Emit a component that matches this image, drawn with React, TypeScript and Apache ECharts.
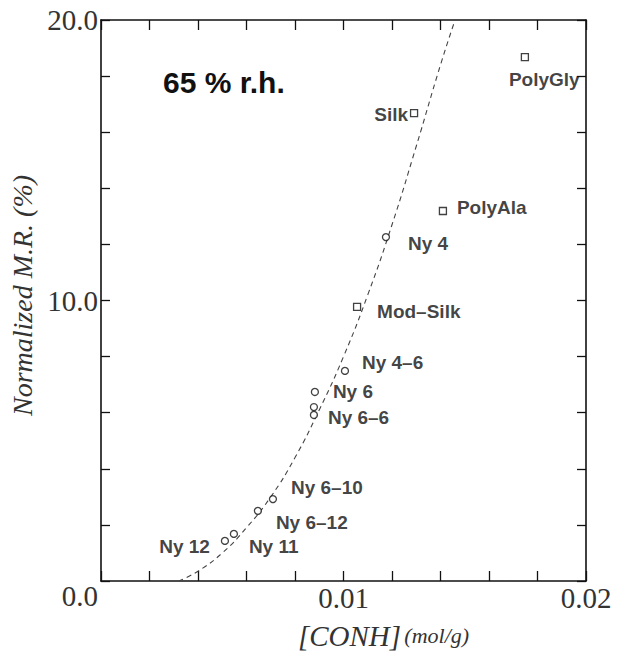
import React, { useEffect, useRef } from "react";
import * as echarts from "echarts";

// ---- data ----
const nylonNames = ["Ny 12", "Ny 11", "Ny 6–12", "Ny 6–10", "Ny 6", "Ny 6–6", "Ny 6–6", "Ny 4–6", "Ny 4"];
const nylonX = [0.00511, 0.00548, 0.00647, 0.00709, 0.00882, 0.00878, 0.00878, 0.01006, 0.01175];
const nylonY = [1.43, 1.68, 2.5, 2.92, 6.74, 6.2, 5.92, 7.49, 12.26];
const nylonShowLabel = [true, true, true, true, true, false, true, true, true];

const proteinNames = ["PolyGly", "Silk", "PolyAla", "Mod–Silk"];
const proteinX = [0.01748, 0.01291, 0.0141, 0.01056];
const proteinY = [18.68, 16.68, 13.19, 9.77];

const curveX = [0.0032, 0.004, 0.005, 0.006, 0.007, 0.008, 0.009, 0.01, 0.011, 0.012, 0.013, 0.014, 0.0146];
const curveY = [0, 0.35, 1.0, 1.9, 3.0, 4.4, 6.1, 8.0, 10.2, 12.7, 15.5, 18.4, 20.0];

const xLabelValues = [0.01, 0.02];
const xLabelTexts = ["0.01", "0.02"];
const yLabelValues = [0, 10, 20];
const yLabelTexts = ["0.0", "10.0", "20.0"];

// label placement (style, not data)
const nylonLabelPos: [string, number, number][] = [
  ["right", -15, 6],
  ["left", 15, 13],
  ["left", 18, 12],
  ["left", 18, -12],
  ["left", 18, 0],
  ["left", 0, 0],
  ["left", 14, 3],
  ["left", 17, -8],
  ["left", 22, 6],
];
const proteinLabelPos: [string, number, number][] = [
  ["left", -16, 22],
  ["right", -6, 1],
  ["left", 14, -4],
  ["left", 20, 5],
];

const INK = "#111";
const SERIF = "'Liberation Serif', 'DejaVu Serif', serif";
const SANS = "'Liberation Sans', Arial, sans-serif";

const near = (a: number, b: number) => Math.abs(a - b) < 1e-9;

export default function App() {
  const ref = useRef<HTMLDivElement>(null);
  useEffect(() => {
    if (!ref.current) return;
    const chart = echarts.init(ref.current, undefined, { renderer: "svg" });

    const labelBase = {
      fontFamily: SANS,
      fontWeight: "bold" as const,
      fontSize: 19,
      color: INK,
      position: "inside" as const,
      verticalAlign: "middle" as const,
    };

    const nylonData = nylonX.map((x, i) => {
      const [align, dx, dy] = nylonLabelPos[i];
      return {
        name: nylonNames[i],
        value: [x, nylonY[i]],
        label: { ...labelBase, show: nylonShowLabel[i], align, offset: [dx, dy], formatter: "{b}" },
      };
    });
    const proteinData = proteinX.map((x, i) => {
      const [align, dx, dy] = proteinLabelPos[i];
      return {
        name: proteinNames[i],
        value: [x, proteinY[i]],
        label: { ...labelBase, show: true, align, offset: [dx, dy], formatter: "{b}" },
      };
    });

    const tickStyle = { lineStyle: { color: INK, width: 1.3 } };
    const axisLineStyle = { lineStyle: { color: INK, width: 1.6 } };

    chart.setOption({
      animation: false,
      backgroundColor: "#fff",
      grid: { left: 101, right: 38, top: 20, bottom: 73, containLabel: false, outerBoundsMode: "none" },
      xAxis: [
        {
          type: "value",
          min: 0,
          max: 0.02,
          interval: 0.002,
          position: "bottom",
          splitLine: { show: false },
          axisLine: { show: true, onZero: false, ...axisLineStyle },
          axisTick: { show: true, inside: true, length: 10, ...tickStyle },
          axisLabel: {
            margin: 2,
            fontFamily: SERIF,
            fontSize: 29,
            color: "#333",
            formatter: (v: number) => {
              const k = xLabelValues.findIndex((t) => near(t, v));
              return k >= 0 ? xLabelTexts[k] : "";
            },
          },
          name: "{a|[CONH]} {b|(mol/g)}",
          nameLocation: "middle",
          nameGap: 40,
          nameTextStyle: {
            padding: [0, 0, 0, 80],
            rich: {
              a: { fontFamily: SERIF, fontStyle: "italic", fontSize: 29, color: "#333" },
              b: { fontFamily: SERIF, fontStyle: "italic", fontSize: 22, color: "#333" },
            },
          },
        },
        {
          type: "value",
          min: 0,
          max: 0.02,
          interval: 0.002,
          position: "top",
          splitLine: { show: false },
          axisLine: { show: true, onZero: false, ...axisLineStyle },
          axisTick: { show: true, inside: true, length: 10, ...tickStyle },
          axisLabel: { show: false },
        },
      ],
      yAxis: [
        {
          type: "value",
          min: 0,
          max: 20,
          interval: 2,
          position: "left",
          splitLine: { show: false },
          axisLine: { show: true, onZero: false, ...axisLineStyle },
          axisTick: { show: true, inside: true, length: 9, ...tickStyle },
          axisLabel: {
            margin: 3,
            fontFamily: SERIF,
            fontSize: 29,
            color: "#333",
            formatter: (v: number) => {
              const k = yLabelValues.findIndex((t) => near(t, v));
              if (k < 0) return "";
              return k === 0 ? "{z|" + yLabelTexts[k] + "}" : yLabelTexts[k];
            },
            rich: {
              z: { fontFamily: SERIF, fontSize: 29, color: "#333", padding: [30, 0, 0, 0] },
            },
          },
          name: "Normalized M.R. (%)",
          nameLocation: "middle",
          nameGap: 60,
          nameTextStyle: {
            fontFamily: SERIF,
            fontStyle: "italic",
            fontSize: 28,
            color: "#333",
            padding: [0, 0, 0, 10],
          },
        },
        {
          type: "value",
          min: 0,
          max: 20,
          interval: 2,
          position: "right",
          splitLine: { show: false },
          axisLine: { show: true, onZero: false, ...axisLineStyle },
          axisTick: { show: true, inside: true, length: 9, ...tickStyle },
          axisLabel: { show: false },
        },
      ],
      series: [
        {
          type: "line",
          xAxisIndex: 0,
          yAxisIndex: 0,
          data: curveX.map((x, i) => [x, curveY[i]]),
          smooth: true,
          showSymbol: false,
          silent: true,
          lineStyle: { color: "#444", width: 1.1, type: [5, 4] },
          z: 1,
        },
        {
          type: "scatter",
          xAxisIndex: 0,
          yAxisIndex: 0,
          symbol: "circle",
          symbolSize: 7,
          itemStyle: { color: "#fff", borderColor: INK, borderWidth: 1.3 },
          data: nylonData,
          z: 3,
        },
        {
          type: "scatter",
          xAxisIndex: 0,
          yAxisIndex: 0,
          symbol: "rect",
          symbolSize: 7,
          itemStyle: { color: "#fff", borderColor: INK, borderWidth: 1.3 },
          data: proteinData,
          z: 3,
        },
      ],
      graphic: [
        {
          type: "text",
          x: 163,
          y: 82,
          style: {
            text: "65 % r.h.",
            fontFamily: SANS,
            fontWeight: "bold",
            fontSize: 30,
            fill: INK,
            verticalAlign: "middle",
            align: "left",
          },
        },
      ],
    });
    return () => chart.dispose();
  }, []);

  return (
    <div
      ref={ref}
      style={{ position: "absolute", left: 0, top: 0, width: 624, height: 654 }}
    />
  );
}
